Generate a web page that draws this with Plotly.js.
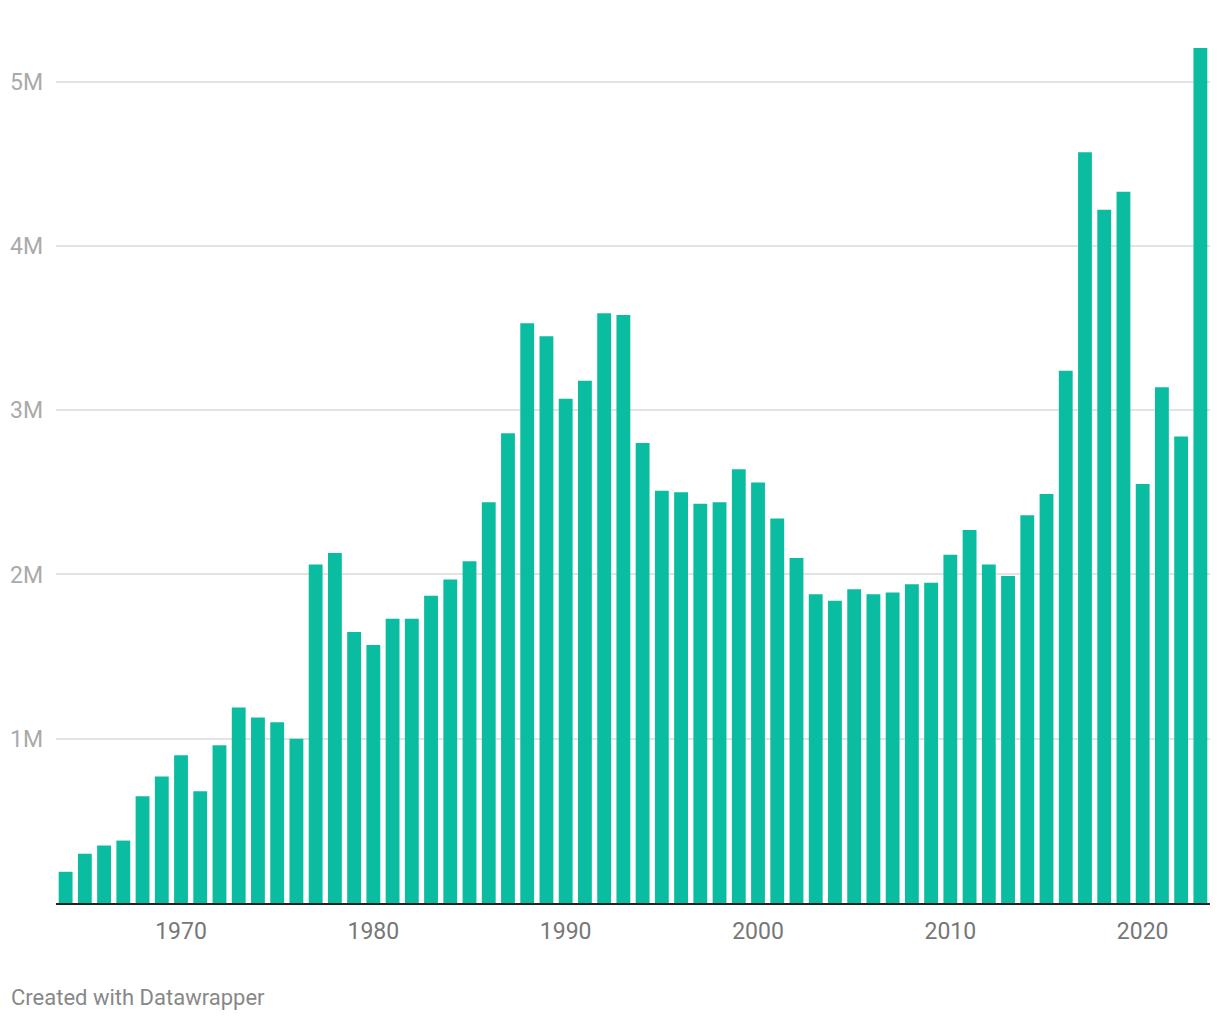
<!DOCTYPE html>
<html>
<head>
<meta charset="utf-8">
<script src="https://cdn.plot.ly/plotly-3.0.1.min.js"></script>
<style>
  html, body { margin: 0; padding: 0; background: #fff; }
  #chart { width: 1220px; height: 1020px; }
</style>
</head>
<body>
<div id="chart"></div>
<script>
// years and yearly values (millions)
const years = [];
for (let y = 1964; y <= 2023; y++) years.push(y);

const valuesM = [
  0.19, 0.30, 0.35, 0.38, 0.65, 0.77, 0.90, 0.68, 0.96, 1.19,
  1.13, 1.10, 1.00, 2.06, 2.13, 1.65, 1.57, 1.73, 1.73, 1.87,
  1.97, 2.08, 2.44, 2.86, 3.53, 3.45, 3.07, 3.18, 3.59, 3.58,
  2.80, 2.51, 2.50, 2.43, 2.44, 2.64, 2.56, 2.34, 2.10, 1.88,
  1.84, 1.91, 1.88, 1.89, 1.94, 1.95, 2.12, 2.27, 2.06, 1.99,
  2.36, 2.49, 3.24, 4.57, 4.22, 4.33, 2.55, 3.14, 2.84, 5.21
];

const xTicks = [1970, 1980, 1990, 2000, 2010, 2020];
const yTicks = [1e6, 2e6, 3e6, 4e6, 5e6];
const yTickLabels = ['1M', '2M', '3M', '4M', '5M'];

const trace = {
  x: years,
  y: valuesM.map(v => v * 1e6),
  type: 'bar',
  marker: { color: '#0bbda0' },
  hoverinfo: 'x+y'
};

const layout = {
  width: 1220,
  height: 1020,
  margin: { l: 56, r: 10, t: 48, b: 117 },
  paper_bgcolor: '#fff',
  plot_bgcolor: '#fff',
  bargap: 0.28,
  showlegend: false,
  font: { family: 'Roboto, sans-serif', size: 23, color: '#777' },
  xaxis: {
    range: [1963.5, 2023.5],
    tickvals: xTicks,
    ticktext: xTicks.map(String),
    showgrid: false,
    zeroline: false,
    showline: true,
    linecolor: '#222',
    linewidth: 2,
    ticks: '',
    ticklabelstandoff: 6,
    tickfont: { family: 'Roboto, sans-serif', size: 23, color: '#777' }
  },
  yaxis: {
    range: [0, 5.205e6],
    tickvals: yTicks,
    ticktext: yTickLabels,
    showgrid: true,
    gridcolor: '#e3e3e3',
    gridwidth: 2,
    zeroline: false,
    showline: false,
    ticks: '',
    ticklabelstandoff: 12,
    tickfont: { family: 'Roboto, sans-serif', size: 23, color: '#aaa' }
  },
  annotations: [{
    text: 'Created with Datawrapper',
    xref: 'paper', yref: 'paper',
    x: 0, y: 0,
    xshift: -47, yshift: -94,
    xanchor: 'left', yanchor: 'middle',
    showarrow: false,
    font: { family: 'Roboto, sans-serif', size: 22, color: '#888' }
  }]
};

Plotly.newPlot('chart', [trace], layout, { displayModeBar: false, staticPlot: true });
</script>
</body>
</html>
